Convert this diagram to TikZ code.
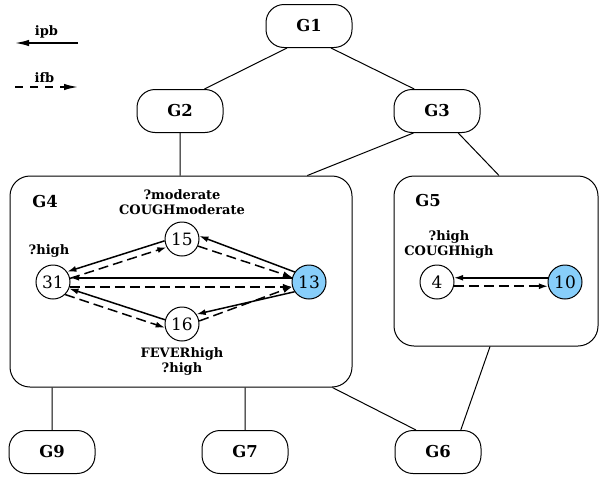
\documentclass[tikz,border=0pt]{standalone}
\usepackage{fontspec}
\setmainfont{DejaVu Serif}
\usetikzlibrary{positioning, arrows.meta}
\definecolor{leafblue}{RGB}{135,206,250}
\tikzset{
x=0.5pt, y=-0.5pt, % one unit is one pixel of the sketch, y runs downwards
>={Latex[length=4.6pt, width=3pt]}, % narrow filled arrow heads
group/.style={draw, line width=0.5pt, rounded corners=9pt, minimum width=43pt, minimum height=21.5pt, font=\fontsize{8.2}{10}\selectfont\bfseries}, % the small G boxes
cluster/.style={draw, line width=0.5pt, rounded corners=10pt, inner sep=0pt}, % the big G boxes
title/.style={font=\fontsize{8.2}{10}\selectfont\bfseries}, % name written inside a big box
state/.style={circle, draw, line width=0.5pt, fill=white, minimum size=17pt, inner sep=0pt, font=\fontsize{8.5}{10}\selectfont},
leaf/.style={state, fill=leafblue},
cue/.style={font=\fontsize{6.5}{7.5}\selectfont\bfseries, align=center, inner sep=0.5pt}, % symptom texts
ipb/.style={->, line width=0.75pt}, % solid edge
ifb/.style={->, line width=0.75pt, dash pattern=on 5pt off 2.5pt}, % dashed edge
legendtip/.style={-{Latex[length=7pt, width=3.2pt]}},
}

\begin{document}
\begin{tikzpicture}
    \useasboundingbox (0,0) rectangle (599,477);

    % legend
    \coordinate (ipbL) at (15,43);
    \coordinate (ipbR) at (78,43);
    \coordinate (ifbL) at (15,87);
    \coordinate (ifbR) at (78,87);
    \draw[ipb, legendtip] (ipbR) -- node[cue, above=1.5pt] {ipb} (ipbL);
    \draw[ifb, legendtip, dash pattern=on 4pt off 3.5pt] (ifbL) -- node[cue, above=1.5pt, xshift=-1pt] {ifb} (ifbR);

    % lattice
    \node[group] (G1) at (309,26) {G1};
    \node[group] (G2) at (180,111) {G2};
    \node[group] (G3) at (437,111) {G3};
    \node[cluster, minimum width=171pt, minimum height=105.5pt] (G4) at (181,281.5) {};
    \node[cluster, minimum width=102pt, minimum height=85pt] (G5) at (496,261) {};
    \node[group] (G9) at (52,452) {G9};
    \node[group] (G7) at (245,452) {G7};
    \node[group] (G6) at (438,452) {G6};
    \draw[line width=0.5pt]
    (G1.225) -- (G2.42)
    (G1.-45) -- (G3.136)
    (G2.south) -- (G2.south |- G4.north)
    (G3.223) -- (G4.40)
    (G3.-46) -- (G5.88)
    (G9.north) -- (G9.north |- G4.south)
    (G7.north) -- (G7.north |- G4.south)
    (G4.-35) -- (G6.135)
    (G5.266) -- (G6.44);

    % inside G4
    \node[title] at (45,202) {G4};
    \node[state] (n31) at (53,282) {31};
    \node[state] (n15) at (182,239) {15};
    \node[state] (n16) at (182,324) {16};
    \node[leaf] (n13) at (309,282) {13};
    \node[cue, above=3pt of n31, xshift=-2pt] {?high};
    \node[cue, above=2.5pt of n15] {?moderate\\COUGHmoderate};
    \node[cue, below=2.5pt of n16] {FEVERhigh\\?high};
    \draw[ipb] (n15.186) -- (n31.36);
    \draw[ifb] (n31.12) -- (n15.208);
    \draw[ipb] (n13.145) -- (n15.10);
    \draw[ifb] (n15.-24) -- (n13.164);
    \draw[ipb] (n13.166) -- (n31.14);
    \draw[ifb] (n31.-16) -- (n13.-164);
    \draw[ipb] (n16.166) -- (n31.-22);
    \draw[ifb] (n31.-46) -- (n16.192);
    \draw[ipb] (n13.214) -- (n16.34);
    \draw[ifb] (n16.10) -- (n13.196);

    % inside G5
    \node[title] at (428,201) {G5};
    \node[state] (n4) at (437,282) {4};
    \node[leaf] (n10) at (565,282) {10};
    \node[cue, above=2.5pt of n4, xshift=6pt] {?high\\COUGHhigh};
    \draw[ipb] (n10.166) -- (n4.14);
    \draw[ifb] (n4.-14) -- (n10.-166);
\end{tikzpicture}
\end{document}
